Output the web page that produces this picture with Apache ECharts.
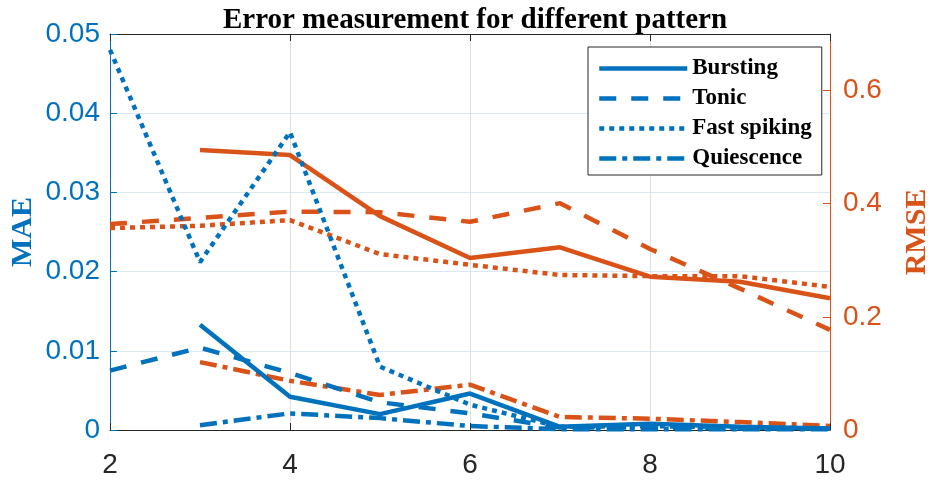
<!DOCTYPE html>
<html>
<head>
<meta charset="utf-8">
<script src="https://cdn.jsdelivr.net/npm/echarts@6/dist/echarts.min.js"></script>
<style>html,body{margin:0;padding:0;background:#fff}#c{width:928px;height:482px}</style>
</head>
<body>
<div id="c"></div>
<script>
const xs = [2, 3, 4, 5, 6, 7, 8, 9, 10];
const patterns = ['Bursting', 'Tonic', 'Fast spiking', 'Quiescence'];
// MAE (left axis)
const maeBursting    = [null, 0.0133, 0.0042, 0.0020, 0.0046, 0.0004, 0.0008, 0.0004, 0.0002];
const maeTonic       = [0.0075, 0.0104, 0.0072, 0.0035, 0.0021, 0.0003, 0.0003, 0.0002, 0.0002];
const maeFastSpiking = [0.0480, 0.0212, 0.0376, 0.0080, 0.0032, 0.0004, 0.0005, 0.0003, 0.0002];
const maeQuiescence  = [null, 0.0006, 0.0021, 0.0015, 0.0005, 0.0001, 0.0001, 0.0001, 0.0001];
// RMSE (right axis)
const rmseBursting    = [null, 0.495, 0.486, 0.378, 0.304, 0.323, 0.271, 0.262, 0.233];
const rmseTonic       = [0.364, 0.375, 0.386, 0.385, 0.368, 0.401, 0.320, 0.250, 0.177];
const rmseFastSpiking = [0.357, 0.361, 0.371, 0.311, 0.292, 0.274, 0.272, 0.272, 0.253];
const rmseQuiescence  = [null, 0.120, 0.087, 0.062, 0.080, 0.023, 0.020, 0.014, 0.007];
const xTicks = [2, 4, 6, 8, 10];
const maeTicks = [0, 0.01, 0.02, 0.03, 0.04, 0.05];
const rmseTicks = [0, 0.2, 0.4, 0.6];

const BLUE = '#0072BD', ORANGE = '#D95319';
const dashTypes = ['solid', [17, 15], [5, 5], [17, 6, 5, 6]];
const maeSets = [maeBursting, maeTonic, maeFastSpiking, maeQuiescence];
const rmseSets = [rmseBursting, rmseTonic, rmseFastSpiking, rmseQuiescence];
const pairs = arr => xs.map((x, i) => [x, arr[i]]);

const series = [];
rmseSets.forEach((d, i) => series.push({
  name: patterns[i] + ' (RMSE)', type: 'line', yAxisIndex: 1, data: pairs(d),
  symbol: 'none', connectNulls: false, animation: false, z: 2,
  lineStyle: { color: ORANGE, width: 4.5, type: dashTypes[i], cap: 'butt' }, itemStyle: { color: ORANGE }
}));
maeSets.forEach((d, i) => series.push({
  name: patterns[i], type: 'line', yAxisIndex: 0, data: pairs(d),
  symbol: 'none', connectNulls: false, animation: false, z: 3,
  lineStyle: { color: BLUE, width: 4.5, type: dashTypes[i], cap: 'butt' }, itemStyle: { color: BLUE }
}));

const chart = echarts.init(document.getElementById('c'), null, { renderer: 'canvas' });
chart.setOption({
  animation: false,
  title: {
    text: 'Error measurement for different pattern', left: 470, textAlign: 'center', top: 1,
    textStyle: { fontFamily: 'Liberation Serif', fontWeight: 'bold', fontSize: 29, color: '#000' }
  },
  legend: {
    data: patterns, orient: 'vertical', left: 588, top: 47,
    backgroundColor: '#fff', borderColor: '#262626', borderWidth: 1,
    padding: [10, 10, 5, 9], itemGap: 7, itemWidth: 88, itemHeight: 20,
    itemStyle: { opacity: 0, borderWidth: 0 },
    lineStyle: { width: 4.5 },
    textStyle: { fontFamily: 'Liberation Serif', fontWeight: 'bold', fontSize: 23, color: '#000' },
    selectedMode: false
  },
  grid: { left: 110, right: 98, top: 34, bottom: 52, outerBoundsMode: 'none', containLabel: false },
  xAxis: [{
    type: 'value', min: 2, max: 10, interval: 2, position: 'bottom',
    axisLine: { show: true, onZero: false, lineStyle: { color: '#262626', width: 1 } },
    axisTick: { show: true, inside: true, length: 7, lineStyle: { color: '#262626' } },
    axisLabel: { color: '#262626', fontFamily: 'Liberation Sans', fontSize: 28, margin: 21 },
    splitLine: { show: true, lineStyle: { color: '#dfdfdf', width: 1 } }
  }, {
    type: 'value', min: 2, max: 10, interval: 2, position: 'top',
    axisLine: { show: true, onZero: false, lineStyle: { color: '#262626', width: 1 } },
    axisTick: { show: true, inside: true, length: 7, lineStyle: { color: '#262626' } },
    axisLabel: { show: false }, splitLine: { show: false }
  }],
  yAxis: [{
    type: 'value', min: 0, max: 0.05, interval: 0.01, position: 'left',
    name: 'MAE', nameLocation: 'middle', nameRotate: 90, nameGap: 72, nameMoveOverlap: false,
    nameTextStyle: { color: BLUE, fontFamily: 'Liberation Serif', fontWeight: 'bold', fontSize: 30 },
    axisLine: { show: true, lineStyle: { color: BLUE, width: 1 } },
    axisTick: { show: true, inside: true, length: 7, lineStyle: { color: BLUE } },
    axisLabel: { color: BLUE, fontFamily: 'Liberation Sans', fontSize: 28, margin: 10,
      formatter: v => maeTicks.some(t => Math.abs(t - v) < 1e-9) ? (v === 0 ? '0' : v.toFixed(2)) : '' },
    splitLine: { show: true, lineStyle: { color: '#d9e8f5', width: 1 } }
  }, {
    type: 'value', min: 0, max: 0.7, interval: 0.2, position: 'right',
    name: 'RMSE', nameLocation: 'middle', nameRotate: 90, nameGap: 72, nameMoveOverlap: false,
    nameTextStyle: { color: ORANGE, fontFamily: 'Liberation Serif', fontWeight: 'bold', fontSize: 30 },
    axisLine: { show: true, lineStyle: { color: ORANGE, width: 1 } },
    axisTick: { show: true, inside: true, length: 7, lineStyle: { color: ORANGE } },
    axisLabel: { color: ORANGE, fontFamily: 'Liberation Sans', fontSize: 28, margin: 13, showMaxLabel: false,
      formatter: v => rmseTicks.some(t => Math.abs(t - v) < 1e-9) ? (v === 0 ? '0' : v.toFixed(1)) : '' },
    splitLine: { show: false }
  }],
  series: series
});
</script>
</body>
</html>
